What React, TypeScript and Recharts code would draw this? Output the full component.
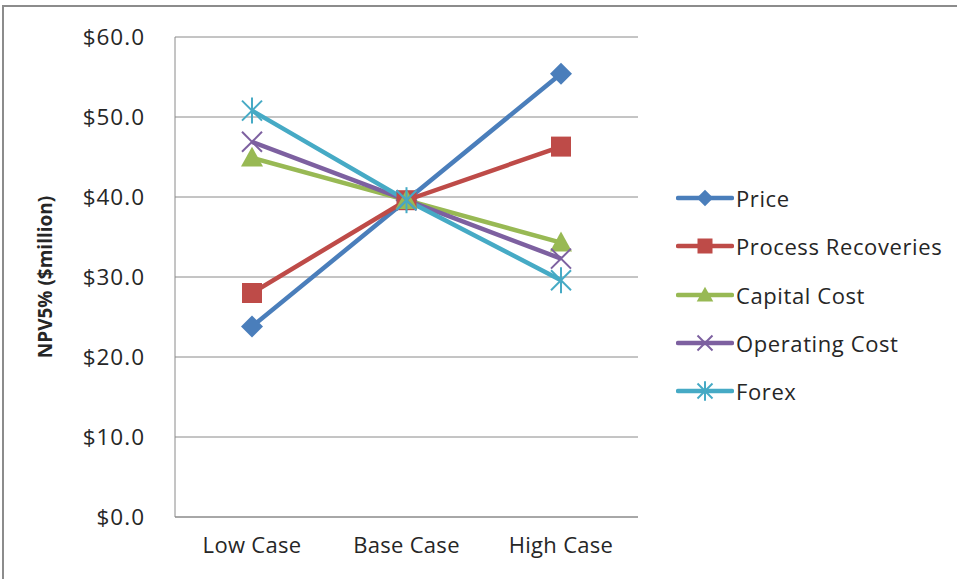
import React from 'react';
import { LineChart, Line, XAxis, YAxis, CartesianGrid, Label } from 'recharts';

const cases = ['Low Case', 'Base Case', 'High Case'];
const price = [23.8, 39.6, 55.4];
const processRecoveries = [28.0, 39.6, 46.3];
const capitalCost = [44.9, 39.6, 34.3];
const operatingCost = [46.9, 39.6, 32.3];
const forex = [50.8, 39.6, 29.6];
const yTicks = [0, 10, 20, 30, 40, 50, 60];

const series = [
  { key: 'price', name: 'Price', color: '#4A7EBB', shape: 'diamond', values: price },
  { key: 'process', name: 'Process Recoveries', color: '#BE4B48', shape: 'square', values: processRecoveries },
  { key: 'capital', name: 'Capital Cost', color: '#98B954', shape: 'triangle', values: capitalCost },
  { key: 'operating', name: 'Operating Cost', color: '#7D60A0', shape: 'cross', values: operatingCost },
  { key: 'forex', name: 'Forex', color: '#46AAC5', shape: 'star', values: forex },
];

const data = cases.map((c, i) => {
  const row: Record<string, string | number> = { name: c };
  series.forEach((s) => {
    row[s.key] = s.values[i];
  });
  return row;
});

const FONT = '"Open Sans", "Liberation Sans", sans-serif';
const TEXT = '#262626';
const GRID = '#8a8a8a';

function Marker({ shape, cx, cy, color, s = 1 }: { shape: string; cx: number; cy: number; color: string; s?: number }) {
  if (shape === 'diamond') {
    const r = 11 * s;
    return <polygon points={`${cx},${cy - r} ${cx + r},${cy} ${cx},${cy + r} ${cx - r},${cy}`} fill={color} />;
  }
  if (shape === 'square') {
    const r = 10 * s;
    return <rect x={cx - r} y={cy - r} width={2 * r} height={2 * r} fill={color} />;
  }
  if (shape === 'triangle') {
    const r = 11 * s;
    return <polygon points={`${cx},${cy - r} ${cx + r},${cy + r * 0.8} ${cx - r},${cy + r * 0.8}`} fill={color} />;
  }
  const r = 10 * s;
  return (
    <g stroke={color} strokeWidth={2}>
      <line x1={cx - r} y1={cy - r} x2={cx + r} y2={cy + r} />
      <line x1={cx - r} y1={cy + r} x2={cx + r} y2={cy - r} />
      {shape === 'star' && <line x1={cx} y1={cy - r * 1.3} x2={cx} y2={cy + r * 1.3} />}
    </g>
  );
}

// legend drawn beside the chart, Excel style (line + marker)
function ChartLegend() {
  return (
    <div
      style={{
        position: 'absolute',
        left: 676,
        top: 174,
        fontFamily: FONT,
        fontSize: 22,
        letterSpacing: 0.6,
        color: TEXT,
      }}
    >
      {series.map((s) => (
        <div key={s.key} style={{ display: 'flex', alignItems: 'center', height: 48.3 }}>
          <svg width={58} height={24} style={{ marginRight: 2 }}>
            <line x1={2} y1={12} x2={56} y2={12} stroke={s.color} strokeWidth={4.5} strokeLinecap="round" />
            <Marker shape={s.shape} cx={29} cy={12} color={s.color} s={0.75} />
          </svg>
          <span>{s.name}</span>
        </div>
      ))}
    </div>
  );
}

export default function App() {
  return (
    <div style={{ position: 'absolute', left: 0, top: 0, width: 957, height: 579, overflow: 'hidden', background: '#fff' }}>
      <div
        style={{
          position: 'absolute',
          left: 2,
          top: 5,
          width: 1100,
          height: 800,
          border: '2px solid #8c8c8c',
        }}
      />
      <LineChart
        width={957}
        height={579}
        data={data}
        margin={{ top: 37, right: 319, bottom: 32, left: 0 }}
        style={{ position: 'absolute', left: 0, top: 0 }}
      >
        <CartesianGrid vertical={false} stroke={GRID} strokeWidth={1} />
        <XAxis
          dataKey="name"
          padding={{ left: 77, right: 77 }}
          axisLine={{ stroke: GRID }}
          tickLine={false}
          tickSize={0}
          tickMargin={20}
          height={30}
          tick={{ fill: TEXT, fontSize: 22, fontFamily: FONT, letterSpacing: 0.3 }}
        />
        <YAxis
          domain={[0, 60]}
          ticks={yTicks}
          width={175}
          axisLine={{ stroke: GRID }}
          tickLine={false}
          tickSize={0}
          tickMargin={30}
          tickFormatter={(v: number) => `$${v.toFixed(1)}`}
          tick={{ fill: TEXT, fontSize: 22.5, fontFamily: FONT, letterSpacing: 1 }}
        >
          <Label
            content={({ viewBox }: any) => {
              const cy = viewBox.y + viewBox.height / 2;
              const cx = 45;
              return (
                <text
                  x={cx}
                  y={cy}
                  transform={`rotate(-90, ${cx}, ${cy})`}
                  textAnchor="middle"
                  dominantBaseline="central"
                  fontFamily={FONT}
                  fontWeight="bold"
                  fontSize={19}
                  fill={TEXT}
                >
                  NPV5% ($million)
                </text>
              );
            }}
          />
        </YAxis>
        {series.map((s) => (
          <Line
            key={s.key}
            dataKey={s.key}
            name={s.name}
            type="linear"
            stroke={s.color}
            strokeWidth={4.5}
            isAnimationActive={false}
            dot={(p: any) => <Marker key={`${s.key}-${p.index}`} shape={s.shape} cx={p.cx} cy={p.cy} color={s.color} />}
            activeDot={false}
          />
        ))}
      </LineChart>
      <ChartLegend />
    </div>
  );
}
